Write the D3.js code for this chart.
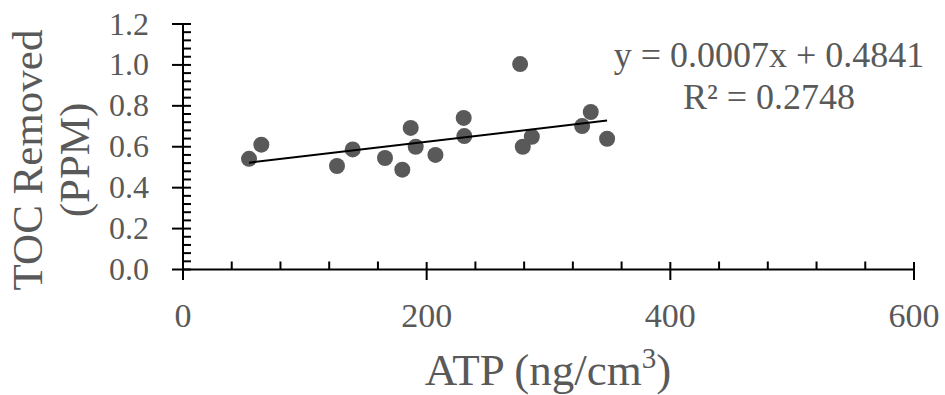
<!DOCTYPE html>
<html><head><meta charset="utf-8">
<script src="https://cdn.jsdelivr.net/npm/d3@7"></script>
<style>body{margin:0;background:#fff}svg{display:block}text{font-family:"Liberation Serif","Times New Roman",serif}</style>
</head><body>
<svg id="c" width="945" height="395"></svg>
<script>
const atp = [54.2, 64.3, 126.4, 139.3, 165.8, 180.0, 186.9, 191.0, 207.2, 230.4, 230.9, 276.7, 278.9, 286.3, 327.6, 334.7, 348.1];
const toc = [0.541, 0.610, 0.506, 0.587, 0.545, 0.488, 0.692, 0.600, 0.560, 0.741, 0.652, 1.004, 0.600, 0.649, 0.701, 0.770, 0.639];
const xTicks = [0, 200, 400, 600];
const yTicks = [0.0, 0.2, 0.4, 0.6, 0.8, 1.0, 1.2];
const slope = 0.0007, intercept = 0.4841;
const eqText = "y = 0.0007x + 0.4841";
const r2Text = "R² = 0.2748";

const svg = d3.select("#c");
const grey = "#595959";
const x = d3.scaleLinear().domain([0, 600]).range([183, 914]);
const y = d3.scaleLinear().domain([0, 1.2]).range([269.5, 24]);

// minor ticks
const xMinor = d3.range(0, 601, 40).filter(v => v % 200 !== 0);
const yMinor = d3.range(0, 1.2001, 0.04).map(v => +v.toFixed(2)).filter(v => Math.abs(v*5 - Math.round(v*5)) > 1e-6);

const g = svg.append("g");
g.selectAll(".xm").data(xMinor).join("line")
  .attr("x1", d => x(d)).attr("x2", d => x(d)).attr("y1", y(0)).attr("y2", y(0) - 8)
  .attr("stroke", "#000").attr("stroke-width", 2);
g.selectAll(".ym").data(yMinor).join("line")
  .attr("y1", d => y(d)).attr("y2", d => y(d)).attr("x1", x(0)).attr("x2", x(0) + 8)
  .attr("stroke", "#000").attr("stroke-width", 2);
g.selectAll(".xM").data(xTicks).join("line")
  .attr("x1", d => x(d)).attr("x2", d => x(d)).attr("y1", y(0) - 7.5).attr("y2", y(0) + 10.5)
  .attr("stroke", "#000").attr("stroke-width", 2);
g.selectAll(".yM").data(yTicks).join("line")
  .attr("y1", d => y(d)).attr("y2", d => y(d)).attr("x1", x(0) - 11).attr("x2", x(0) + 8)
  .attr("stroke", "#000").attr("stroke-width", 2);
// axis lines
g.append("line").attr("x1", x(0)).attr("x2", x(600)).attr("y1", y(0)).attr("y2", y(0)).attr("stroke", "#000").attr("stroke-width", 2);
g.append("line").attr("x1", x(0)).attr("x2", x(0)).attr("y1", y(0)).attr("y2", y(1.2)).attr("stroke", "#000").attr("stroke-width", 2);

// tick labels
g.selectAll(".xl").data(xTicks).join("text")
  .attr("x", d => x(d)).attr("y", 327).attr("text-anchor", "middle")
  .attr("font-size", 34).attr("fill", grey).text(d => d);
g.selectAll(".yl").data(yTicks).join("text")
  .attr("x", 149).attr("y", d => y(d)).attr("dy", "0.33em").attr("text-anchor", "end")
  .attr("font-size", 32).attr("fill", grey).text(d => d.toFixed(1));

// points
svg.selectAll("circle").data(atp.map((a, i) => [a, toc[i]])).join("circle")
  .attr("cx", d => x(d[0])).attr("cy", d => y(d[1])).attr("r", 8).attr("fill", grey);

// trendline
const [xmin, xmax] = d3.extent(atp);
svg.append("line").attr("x1", x(xmin)).attr("y1", y(slope*xmin + intercept))
  .attr("x2", x(xmax)).attr("y2", y(slope*xmax + intercept))
  .attr("stroke", "#000").attr("stroke-width", 2);

// equation
svg.append("text").attr("x", 769).attr("y", 67).attr("text-anchor", "middle")
  .attr("font-size", 36).attr("fill", grey).text(eqText);
svg.append("text").attr("x", 769).attr("y", 109).attr("text-anchor", "middle")
  .attr("font-size", 36).attr("fill", grey).text(r2Text);

// x title
const xt = svg.append("text").attr("x", 548).attr("y", 385).attr("text-anchor", "middle")
  .attr("font-size", 45).attr("fill", grey);
xt.append("tspan").text("ATP (ng/cm");
xt.append("tspan").attr("font-size", 29).attr("dy", -17).text("3");
xt.append("tspan").attr("dy", 17).text(")");

// y title
const yt = svg.append("text").attr("transform", "translate(42,160) rotate(-90)")
  .attr("text-anchor", "middle").attr("font-size", 43).attr("fill", grey);
yt.append("tspan").attr("x", 0).attr("y", 0).text("TOC Removed");
yt.append("tspan").attr("x", 0).attr("y", 47).text("(PPM)");
</script>
</body></html>
